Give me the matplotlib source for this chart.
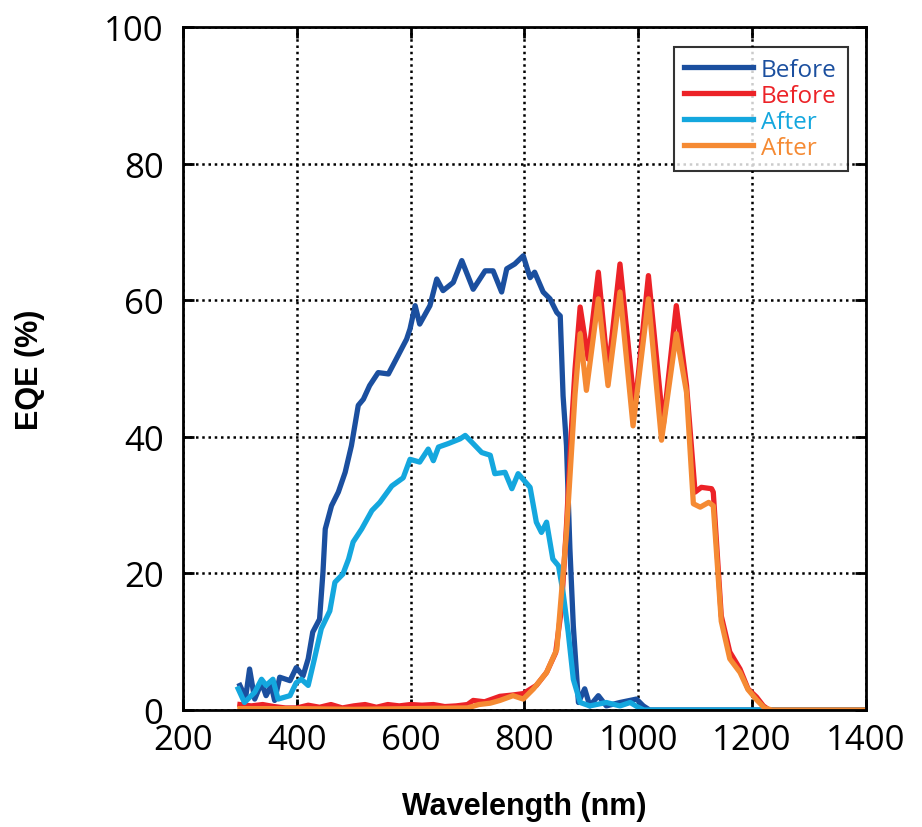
import matplotlib
matplotlib.use("Agg")
from matplotlib import pyplot as plt

# Dark blue "Before"
wl_before_a = [300, 310, 317, 326, 338, 346, 355, 361, 370, 388, 399, 411, 420, 428, 440, 446,
               450, 461, 473, 485, 496, 508, 517, 528, 543, 561, 578, 593, 599, 608, 616, 634,
               646, 657, 675, 690, 710, 731, 745, 760, 769, 783, 798, 810, 818, 833, 845, 857,
               863, 868, 874, 880, 886, 895, 906, 915, 930, 944, 968, 997, 1009, 1020, 1400]
eqe_before_a = [3.6, 1.8, 6.0, 1.6, 4.0, 2.1, 3.6, 1.4, 4.8, 4.3, 6.2, 5.0, 7.5, 11.4, 13.3, 20.2,
                26.5, 29.9, 31.9, 34.8, 38.7, 44.6, 45.5, 47.5, 49.4, 49.2, 51.9, 54.3, 55.8, 59.2, 56.5, 59.2,
                63.1, 61.4, 62.6, 65.8, 61.6, 64.3, 64.3, 61.2, 64.6, 65.3, 66.5, 63.3, 64.1, 61.2, 60.2, 58.2,
                57.7, 46.0, 38.7, 23.6, 12.3, 1.1, 3.1, 0.6, 2.1, 0.6, 1.1, 1.6, 0.6, 0.0, 0.0]

# Red "Before"
wl_before_b = [300, 320, 340, 360, 380, 400, 420, 440, 460, 480, 500, 520, 540, 560, 580, 600,
               620, 640, 660, 680, 700, 710, 730, 757, 780, 798, 821, 839, 855, 865, 874, 883,
               889, 898, 912, 930, 947, 968, 994, 1018, 1044, 1067, 1085, 1100, 1111, 1129, 1132,
               1146, 1161, 1179, 1193, 1208, 1220, 1230, 1400]
eqe_before_b = [0.8, 0.6, 0.8, 0.5, 0.3, 0.3, 0.7, 0.4, 0.8, 0.3, 0.6, 0.8, 0.4, 0.8, 0.6, 0.8,
                0.7, 0.8, 0.5, 0.6, 0.8, 1.4, 1.2, 2.0, 2.2, 2.4, 3.6, 5.5, 8.4, 14.8, 27.0, 41.6,
                49.9, 59.0, 51.4, 64.1, 49.4, 65.3, 44.0, 63.6, 41.6, 59.2, 47.5, 31.9, 32.6, 32.4, 31.9,
                13.8, 8.5, 6.0, 3.1, 1.9, 0.6, 0.0, 0.0]

# Light blue "After"
wl_after_a = [297, 308, 326, 338, 346, 358, 367, 388, 399, 408, 420, 431, 443, 458, 467, 481,
              491, 499, 514, 532, 546, 567, 587, 599, 616, 631, 640, 649, 666, 687, 696, 710,
              725, 740, 748, 766, 778, 789, 810, 821, 830, 839, 850, 860, 868, 877, 886, 898,
              915, 944, 968, 986, 1000, 1010, 1400]
eqe_after_a = [3.1, 1.1, 2.6, 4.5, 3.6, 4.5, 1.6, 2.1, 4.0, 4.5, 3.6, 7.5, 11.9, 14.5, 18.7, 19.9,
               22.1, 24.6, 26.5, 29.2, 30.4, 32.8, 34.0, 36.7, 36.3, 38.2, 36.5, 38.5, 39.0, 39.7, 40.2, 39.0,
               37.7, 37.3, 34.6, 34.8, 32.4, 34.6, 32.6, 27.5, 26.0, 27.5, 22.1, 21.1, 17.2, 11.4, 4.5, 1.1,
               0.6, 1.1, 0.6, 1.1, 0.4, 0.0, 0.0]

# Orange "After"
wl_after_b = [300, 400, 500, 600, 700, 720, 740, 757, 780, 798, 816, 839, 857, 874, 889, 898,
              909, 930, 947, 968, 991, 1018, 1041, 1067, 1085, 1097, 1109, 1124, 1132, 1146, 1161,
              1179, 1193, 1208, 1222, 1235, 1400]
eqe_after_b = [0.2, 0.2, 0.1, 0.2, 0.3, 0.8, 1.0, 1.4, 2.1, 1.6, 3.1, 5.5, 8.9, 26.0, 46.2, 55.1,
               46.8, 60.2, 47.5, 61.2, 41.6, 60.2, 39.5, 55.1, 46.5, 30.2, 29.7, 30.4, 29.9, 13.0, 7.5,
               5.5, 3.0, 1.5, 0.3, 0.0, 0.0]

x_ticks = [200, 400, 600, 800, 1000, 1200, 1400]
y_ticks = [0, 20, 40, 60, 80, 100]

colors = ['#1b4f9f', '#ec2227', '#14a7de', '#f58a33']

fig = plt.figure(figsize=(9.22, 8.28), dpi=100)
ax = fig.add_axes([0.1985, 0.1413, 0.7405, 0.8249])

ax.plot(wl_before_a, eqe_before_a, c=colors[0], lw=3.8, label='Before')
ax.plot(wl_before_b, eqe_before_b, c=colors[1], lw=3.8, label='Before')
ax.plot(wl_after_a, eqe_after_a, c=colors[2], lw=3.8, label='After')
ax.plot(wl_after_b, eqe_after_b, c=colors[3], lw=3.8, label='After')

# Axes formatting
ax.set_xlim(200, 1400)
ax.set_ylim(0, 100)
ax.set_xticks(x_ticks)
ax.set_yticks(y_ticks)
ax.grid(True, color='black', linestyle=(0, (1, 1.5)), linewidth=1.8)
ax.tick_params(axis='x', which='major', pad=9)
ax.tick_params(axis='y', which='major', pad=14)
ax.tick_params(axis='both', which='major', direction='in', length=8, width=2,
               top=True, right=True, labelsize=25)
for label in ax.get_xticklabels() + ax.get_yticklabels():
    label.set_family('Open Sans')
for spine in ax.spines.values():
    spine.set_linewidth(2)

ax.set_xlabel('Wavelength (nm)', fontsize=22, fontweight='bold',
              family='Liberation Sans')
ax.set_ylabel('EQE (%)', fontsize=22, fontweight='bold',
              family='Liberation Sans')
ax.xaxis.set_label_coords(0.5, -0.118)
ax.yaxis.set_label_coords(-0.202, 0.5)

leg = ax.legend(loc='upper right', bbox_to_anchor=(0.9736, 0.9707), borderaxespad=0,
                frameon=True, fancybox=False, edgecolor='black', handlelength=2.8,
                handletextpad=0.35, labelspacing=0.08, borderpad=0.45,
                prop={'family': 'Open Sans', 'size': 17.5})
leg.get_frame().set_linewidth(1.5)
for text, c in zip(leg.get_texts(), colors):
    text.set_color(c)

fig.savefig('out.png', dpi=100)
